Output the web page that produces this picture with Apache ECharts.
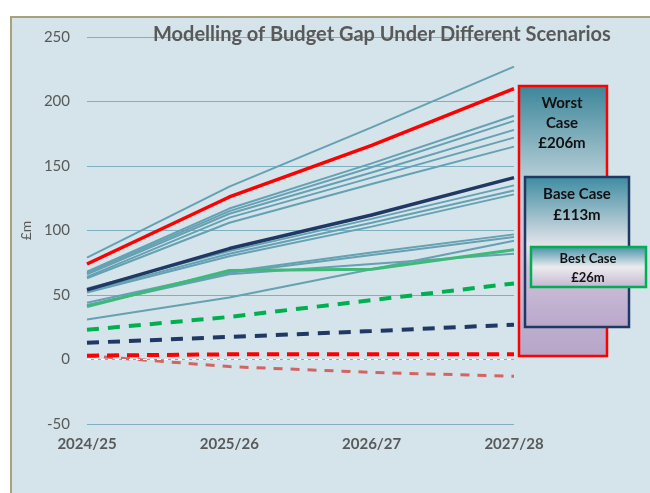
<!DOCTYPE html>
<html lang="en">
<head>
    <meta charset="UTF-8">
    <title>Modelling of Budget Gap Under Different Scenarios</title>
    <script src="https://cdn.jsdelivr.net/npm/echarts@6/dist/echarts.min.js"></script>
    <style>
        html, body { margin: 0; padding: 0; background: #ffffff; }
        #chart { width: 650px; height: 493px; }
    </style>
</head>
<body>
    <div id="chart"></div>
    <script>
        // categories
        const years = ['2024/25', '2025/26', '2026/27', '2027/28'];

        // sensitivity runs (thin teal lines)
        const runs = [
            [79, 134, 180, 227],
            [68, 117, 152, 189],
            [67, 115, 149, 185],
            [66, 113, 145, 178],
            [64, 110, 141, 172],
            [63, 106, 136, 165],
            [55, 84, 109, 135],
            [53, 82, 106, 131],
            [52, 80, 103, 128],
            [44, 68, 83, 97],
            [42, 67, 81, 95],
            [42, 66, 74, 82],
            [31, 48, 70, 92]
        ];

        // scenario lines
        const worstCase = [74, 126, 166, 210];
        const baseCase = [54, 86, 112, 141];
        const bestCase = [41, 69, 70, 85];

        // dashed lines
        const bestDashed = [23, 33, 46, 59];
        const baseDashed = [13, 17.5, 22, 27];
        const worstDashed = [3, 4, 4, 4];
        const lowDashed = [3, -5.5, -10, -13];

        const font = 'Lato, "Open Sans", sans-serif';

        const series = [];
        runs.forEach((r, i) => {
            series.push({
                name: 'run' + i,
                type: 'line',
                data: r,
                symbol: 'none',
                z: 2,
                lineStyle: { color: '#65a1b3', width: 2 }
            });
        });

        function dashLine(name, data, color, width, dash) {
            return {
                name: name,
                type: 'line',
                data: data,
                symbol: 'none',
                z: 3,
                lineStyle: { color: color, width: width, type: dash }
            };
        }

        series.push(dashLine('lowDashed', lowDashed, '#d46464', 3, [9, 8]));
        series.push(dashLine('worstDashed', worstDashed, '#ff0000', 4, [12, 8]));
        series.push(dashLine('baseDashed', baseDashed, '#1f3864', 4, [12, 9]));
        series.push(dashLine('bestDashed', bestDashed, '#00b050', 4, [12, 9]));

        series.push({
            name: 'Best Case', type: 'line', data: bestCase, symbol: 'none', z: 4,
            lineStyle: { color: '#3dba78', width: 3 }
        });
        series.push({
            name: 'Base Case', type: 'line', data: baseCase, symbol: 'none', z: 4,
            lineStyle: { color: '#1f3864', width: 3.5 }
        });
        series.push({
            name: 'Worst Case', type: 'line', data: worstCase, symbol: 'none', z: 4,
            lineStyle: { color: '#ff0000', width: 3.5 },
            // white dashed zero line
            markLine: {
                silent: true,
                symbol: 'none',
                label: { show: false },
                lineStyle: { color: '#ffffff', width: 1, type: [4, 3] },
                data: [{ yAxis: 0 }]
            }
        });

        function box(x, y, w, h, stroke, stops) {
            return {
                type: 'rect',
                shape: { x: x, y: y, width: w, height: h },
                z: 10,
                style: {
                    stroke: stroke,
                    lineWidth: 2.5,
                    fill: {
                        type: 'linear', x: 0, y: 0, x2: 0, y2: 1,
                        colorStops: stops
                    }
                }
            };
        }

        function boxText(x, y, text, size, lh) {
            return {
                type: 'text',
                x: x, y: y, z: 11,
                style: {
                    text: text,
                    fill: '#111111',
                    font: 'bold ' + size + 'px ' + font,
                    textAlign: 'center',
                    textVerticalAlign: 'top',
                    lineHeight: lh
                }
            };
        }

        const option = {
            backgroundColor: '#ffffff',
            animation: false,
            title: {
                text: 'Modelling of Budget Gap Under Different Scenarios',
                left: 148,
                top: 20,
                textStyle: { color: '#595959', fontSize: 20, fontWeight: 'bold', fontFamily: font }
            },
            grid: { left: 87, right: 136, top: 37, bottom: 69 },
            xAxis: {
                type: 'category',
                data: years,
                boundaryGap: false,
                axisLine: { show: false },
                axisTick: { show: false },
                axisLabel: { color: '#595959', fontSize: 15, fontWeight: 'bold', fontFamily: font, margin: 13 }
            },
            yAxis: {
                type: 'value',
                min: -50,
                max: 250,
                interval: 50,
                name: '£m',
                nameLocation: 'middle',
                nameGap: 47,
                nameTextStyle: { color: '#595959', fontSize: 14, fontFamily: font },
                axisLine: { show: false },
                axisTick: { show: false },
                axisLabel: { color: '#595959', fontSize: 15, fontFamily: font, margin: 17 },
                splitLine: { lineStyle: { color: '#7fb0bf', width: 1 } }
            },
            graphic: [
                {
                    type: 'rect',
                    shape: { x: 11, y: 17, width: 700, height: 520 },
                    z: -10,
                    silent: true,
                    style: { fill: '#d4e4ea', stroke: '#a8a27c', lineWidth: 2 }
                },
                box(519, 86, 88, 270, '#ff0000', [
                    { offset: 0, color: '#3a8599' },
                    { offset: 0.35, color: '#b9d0d8' },
                    { offset: 0.55, color: '#cfc7dc' },
                    { offset: 1, color: '#b7a5c8' }
                ]),
                boxText(562, 93, 'Worst\nCase\n£206m', 15, 20),
                box(525, 177, 104, 150, '#1f3864', [
                    { offset: 0, color: '#3b8aa0' },
                    { offset: 0.45, color: '#e2e4ea' },
                    { offset: 0.6, color: '#cfc3dc' },
                    { offset: 1, color: '#b9a7ca' }
                ]),
                boxText(577, 184, 'Base Case\n£113m', 15, 21),
                box(531, 247, 115, 40, '#00b050', [
                    { offset: 0, color: '#3e8ea3' },
                    { offset: 0.5, color: '#ecebee' },
                    { offset: 1, color: '#c3b4d2' }
                ]),
                boxText(588, 249, 'Best Case\n£26m', 13, 19)
            ],
            series: series
        };

        const chart = echarts.init(document.getElementById('chart'));
        chart.setOption(option);
    </script>
</body>
</html>
